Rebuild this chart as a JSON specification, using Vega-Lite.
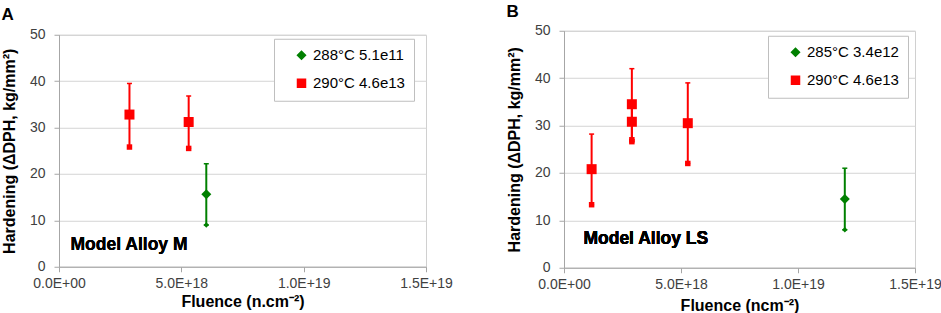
{
  "$schema": "https://vega.github.io/schema/vega-lite/v6.json",
  "padding": {"left": 0, "top": 1.5, "right": 0, "bottom": 0},
  "spacing": 52,
  "center": true,
  "datasets": {
    "a": [
      {"series": "290°C 4.6e13", "fluence": 2.88e18, "hardening": 32.8, "lo": 25.8, "hi": 39.5},
      {"series": "290°C 4.6e13", "fluence": 5.3e18, "hardening": 31.2, "lo": 25.5, "hi": 36.8},
      {"series": "288°C 5.1e11", "fluence": 6.02e18, "hardening": 15.6, "lo": 9.0, "hi": 22.2}
    ],
    "b": [
      {"series": "290°C 4.6e13", "fluence": 1.18e18, "hardening": 20.8, "lo": 13.3, "hi": 28.2},
      {"series": "290°C 4.6e13", "fluence": 2.9e18, "hardening": 34.5, "lo": 27.0, "hi": 42.0},
      {"series": "290°C 4.6e13", "fluence": 2.9e18, "hardening": 30.8, "lo": 26.6, "hi": 35.0},
      {"series": "290°C 4.6e13", "fluence": 5.29e18, "hardening": 30.5, "lo": 22.0, "hi": 39.0},
      {"series": "285°C 3.4e12", "fluence": 1.2e19, "hardening": 14.5, "lo": 8.0, "hi": 21.0}
    ]
  },
  "hconcat": [
    {
      "title": {"text": "A", "offset": 4},
      "width": 367,
      "height": 232,
      "data": {"name": "a"},
      "encoding": {
        "x": {"field": "fluence", "type": "quantitative", "title": "Fluence (n.cm⁻²)",
              "scale": {"domain": [0, 1.5e19], "nice": false},
              "axis": {"values": [0, 5e18, 1e19, 1.5e19], "titlePadding": 3, "labelExpr": "datum.value == 0 ? '0.0E+00' : upper(format(datum.value, '.1e'))"}},
        "color": {"field": "series", "type": "nominal",
                  "scale": {"domain": ["288°C 5.1e11", "290°C 4.6e13"], "range": ["#008000", "#ff0000"]},
                  "legend": {"orient": "none", "legendX": 215, "legendY": 4, "title": null}},
        "shape": {"field": "series", "type": "nominal",
                  "scale": {"domain": ["288°C 5.1e11", "290°C 4.6e13"], "range": ["diamond", "square"]},
                  "legend": {"orient": "none", "legendX": 215, "legendY": 4, "title": null}}
      },
      "layer": [
        {"mark": {"type": "rule", "strokeWidth": 2},
         "encoding": {"y": {"field": "lo", "type": "quantitative", "title": "Hardening (ΔDPH, kg/mm²)",
                            "scale": {"domain": [0, 50], "nice": false},
                            "axis": {"values": [0, 10, 20, 30, 40, 50]}},
                      "y2": {"field": "hi"}}},
        {"mark": {"type": "point", "filled": false, "opacity": 1, "size": 25, "strokeWidth": 1.5},
         "encoding": {"y": {"field": "lo", "type": "quantitative"}, "shape": {"value": "stroke"}}},
        {"mark": {"type": "point", "filled": false, "opacity": 1, "size": 25, "strokeWidth": 1.5},
         "encoding": {"y": {"field": "hi", "type": "quantitative"}, "shape": {"value": "stroke"}}},
        {"mark": {"type": "point", "filled": true, "opacity": 1, "size": 100},
         "encoding": {"y": {"field": "hardening", "type": "quantitative"}}},
        {"mark": {"type": "text", "text": "Model Alloy M", "align": "left", "baseline": "alphabetic", "fontSize": 17.5, "fontWeight": "bold", "font": "Liberation Sans", "color": "#000000"},
         "encoding": {"x": {"datum": 4.7e17, "type": "quantitative"}, "y": {"datum": 3.6, "type": "quantitative"}, "color": {"value": "#000000"}, "shape": {"value": "circle"}}}
      ]
    },
    {
      "title": {"text": "B", "offset": 3},
      "width": 351,
      "height": 237,
      "data": {"name": "b"},
      "encoding": {
        "x": {"field": "fluence", "type": "quantitative", "title": "Fluence (ncm⁻²)",
              "scale": {"domain": [0, 1.5e19], "nice": false},
              "axis": {"values": [0, 5e18, 1e19, 1.5e19], "titlePadding": 6, "labelExpr": "datum.value == 0 ? '0.0E+00' : upper(format(datum.value, '.1e'))"}},
        "color": {"field": "series", "type": "nominal",
                  "scale": {"domain": ["285°C 3.4e12", "290°C 4.6e13"], "range": ["#008000", "#ff0000"]},
                  "legend": {"orient": "none", "legendX": 204, "legendY": 5, "title": null}},
        "shape": {"field": "series", "type": "nominal",
                  "scale": {"domain": ["285°C 3.4e12", "290°C 4.6e13"], "range": ["diamond", "square"]},
                  "legend": {"orient": "none", "legendX": 204, "legendY": 5, "title": null}}
      },
      "layer": [
        {"mark": {"type": "rule", "strokeWidth": 2},
         "encoding": {"y": {"field": "lo", "type": "quantitative", "title": "Hardening (ΔDPH, kg/mm²)",
                            "scale": {"domain": [0, 50], "nice": false},
                            "axis": {"values": [0, 10, 20, 30, 40, 50]}},
                      "y2": {"field": "hi"}}},
        {"mark": {"type": "point", "filled": false, "opacity": 1, "size": 25, "strokeWidth": 1.5},
         "encoding": {"y": {"field": "lo", "type": "quantitative"}, "shape": {"value": "stroke"}}},
        {"mark": {"type": "point", "filled": false, "opacity": 1, "size": 25, "strokeWidth": 1.5},
         "encoding": {"y": {"field": "hi", "type": "quantitative"}, "shape": {"value": "stroke"}}},
        {"mark": {"type": "point", "filled": true, "opacity": 1, "size": 100},
         "encoding": {"y": {"field": "hardening", "type": "quantitative"}}},
        {"mark": {"type": "text", "text": "Model Alloy LS", "align": "left", "baseline": "alphabetic", "fontSize": 17.5, "fontWeight": "bold", "font": "Liberation Sans", "color": "#000000"},
         "encoding": {"x": {"datum": 8.3e17, "type": "quantitative"}, "y": {"datum": 5.0, "type": "quantitative"}, "color": {"value": "#000000"}, "shape": {"value": "circle"}}}
      ]
    }
  ],
  "resolve": {
    "scale": {"color": "independent", "shape": "independent"},
    "legend": {"color": "independent", "shape": "independent"}
  },
  "config": {
    "font": "Liberation Sans",
    "view": {"stroke": "#d0d0d0", "strokeWidth": 1},
    "title": {"anchor": "start", "frame": "bounds", "fontSize": 17, "fontWeight": "bold", "font": "Liberation Sans", "color": "#000000"},
    "axis": {
      "labelFont": "Liberation Sans", "labelFontSize": 14, "labelColor": "#404040", "labelFlush": false,
      "titleFont": "Liberation Sans", "titleFontSize": 16, "titleFontWeight": "bold", "titleColor": "#000000",
      "domainColor": "#a6a6a6", "tickColor": "#a6a6a6", "tickSize": 5, "gridColor": "#d4d4d4"
    },
    "axisX": {"grid": false, "labelPadding": 5},
    "axisY": {"grid": true, "labelPadding": 9, "titlePadding": 12},
    "legend": {
      "strokeColor": "#bfbfbf", "fillColor": "#ffffff", "padding": 9,
      "labelFont": "Liberation Sans", "labelFontSize": 15, "labelColor": "#000000",
      "symbolOffset": 11, "symbolSize": 64, "rowPadding": 12, "labelOffset": 4,
      "labelExpr": "datum.label + '\u00a0\u00a0\u00a0\u00a0\u00a0\u00a0'"
    }
  }
}
